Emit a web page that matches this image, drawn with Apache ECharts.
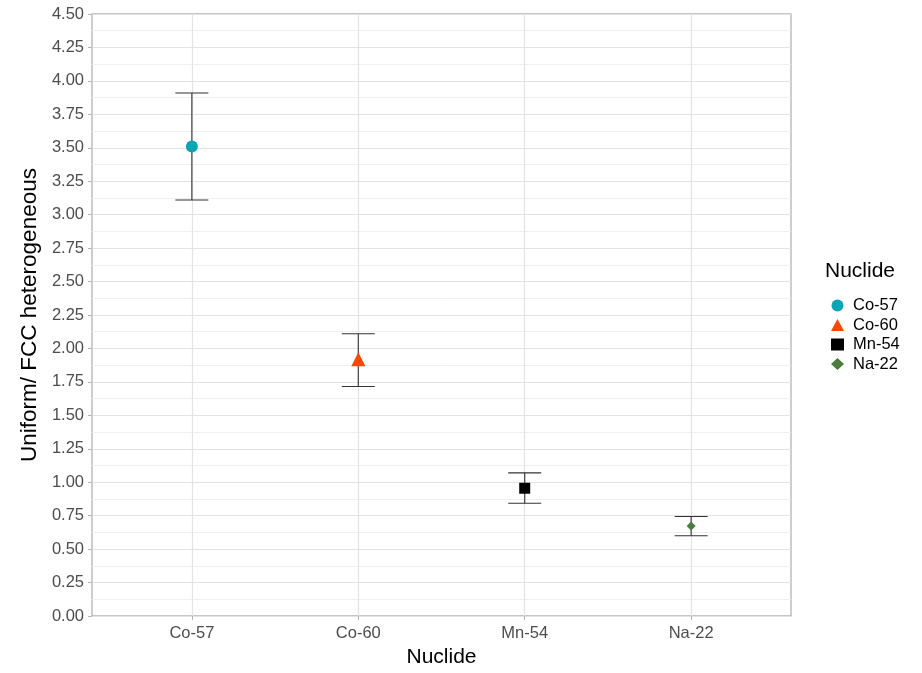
<!DOCTYPE html>
<html>
<head>
<meta charset="utf-8">
<script src="https://cdn.jsdelivr.net/npm/echarts@6/dist/echarts.min.js"></script>
<style>html,body{margin:0;padding:0;background:#fff;overflow:hidden}#c{width:922px;height:673px}</style>
</head>
<body>
<div id="c"></div>
<script>
const categories = ['Co-57', 'Co-60', 'Mn-54', 'Na-22'];
const ratio = [3.51, 1.92, 0.955, 0.672];
const lower = [3.11, 1.715, 0.843, 0.60];
const upper = [3.91, 2.11, 1.07, 0.744];
const colors = ['#0aa5b5', '#ff4500', '#000000', '#4b7d3a'];
const symbols = ['circle', 'triangle', 'rect', 'diamond'];
const sizes = [12, 14, 11, 9];

const chart = echarts.init(document.getElementById('c'), null, { width: 922, height: 673 });
const FONT = 'Liberation Sans, Arial, sans-serif';

const pointSeries = categories.map((name, i) => ({
  name: name,
  type: 'scatter',
  symbol: symbols[i],
  symbolSize: sizes[i],
  itemStyle: { color: colors[i], opacity: 1 },
  data: [[i + 1, ratio[i]]],
  z: 5
}));

const errSeries = {
  type: 'custom',
  name: 'err',
  z: 3,
  silent: true,
  data: categories.map((c, i) => [i + 1, lower[i], upper[i]]),
  renderItem: function (params, api) {
    const x = api.value(0);
    const lo = api.coord([x, api.value(1)]);
    const hi = api.coord([x, api.value(2)]);
    const hw = 16.5;
    const st = { stroke: '#333333', lineWidth: 1.1 };
    return {
      type: 'group',
      children: [
        { type: 'line', shape: { x1: lo[0], y1: lo[1], x2: hi[0], y2: hi[1] }, style: st },
        { type: 'line', shape: { x1: lo[0] - hw, y1: lo[1], x2: lo[0] + hw, y2: lo[1] }, style: st },
        { type: 'line', shape: { x1: hi[0] - hw, y1: hi[1], x2: hi[0] + hw, y2: hi[1] }, style: st }
      ]
    };
  }
};

chart.setOption({
  animation: false,
  textStyle: { fontFamily: FONT },
  grid: { left: 92, top: 14, width: 699, height: 605, show: true, borderColor: '#b3b3b3', borderWidth: 1.3, containLabel: false },
  xAxis: {
    type: 'value',
    min: 0.4, max: 4.6,
    name: 'Nuclide',
    nameLocation: 'middle',
    nameGap: 31,
    nameTextStyle: { fontSize: 21, color: '#000', fontFamily: FONT },
    axisLine: { show: false },
    axisTick: { show: true, length: 4, lineStyle: { color: '#b3b3b3' }, customValues: [1, 2, 3, 4] },
    axisLabel: { customValues: [1, 2, 3, 4], fontSize: 16.5, color: '#4d4d4d', margin: 9, formatter: v => categories[Math.round(v) - 1] || '' },
    splitLine: { show: true, lineStyle: { color: '#e3e3e3', width: 1.2 } }
  },
  yAxis: {
    type: 'value',
    min: 0, max: 4.5, interval: 0.25,
    name: 'Uniform/ FCC heterogeneous',
    nameLocation: 'middle',
    nameGap: 36,
    nameTextStyle: { fontSize: 22.5, color: '#000', fontFamily: FONT },
    axisLine: { show: false },
    axisTick: { show: true, length: 4, lineStyle: { color: '#b3b3b3' } },
    axisLabel: { fontSize: 16.5, color: '#4d4d4d', margin: 8, formatter: v => v.toFixed(2) },
    splitLine: { show: true, lineStyle: { color: '#e3e3e3', width: 1.2 } },
    minorTick: { show: false, splitNumber: 2 },
    minorSplitLine: { show: true, lineStyle: { color: '#efefef', width: 1 } }
  },
  legend: {
    data: categories,
    orient: 'vertical',
    left: 826,
    top: 292,
    itemWidth: 13,
    itemHeight: 12,
    itemGap: 2.5,
    textStyle: { fontSize: 16.5, lineHeight: 17, color: '#000', fontFamily: FONT, padding: [0, 0, 0, 4] }
  },
  graphic: [{
    type: 'text',
    left: 825,
    top: 261,
    style: { text: 'Nuclide', fontSize: 21, fill: '#000', fontFamily: FONT }
  }],
  series: [errSeries].concat(pointSeries)
});
</script>
</body>
</html>
